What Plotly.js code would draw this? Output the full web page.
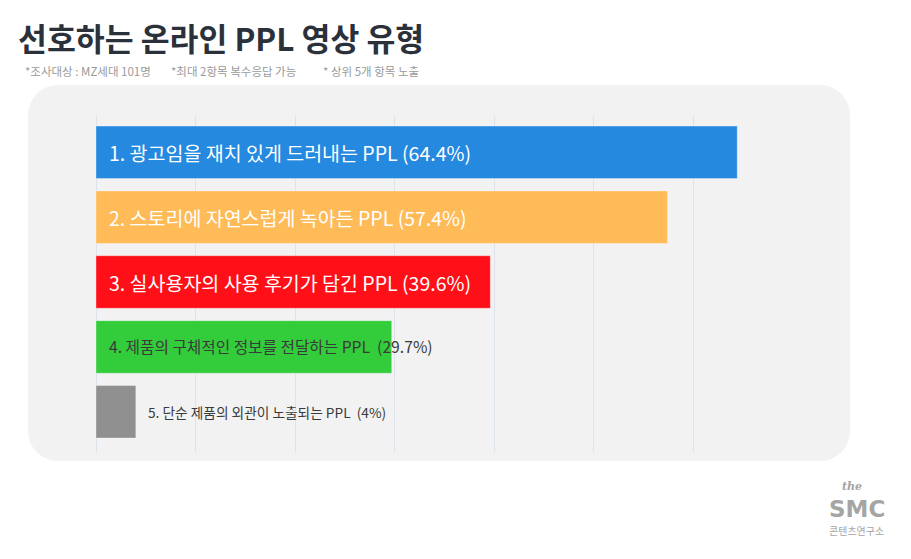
<!DOCTYPE html>
<html><head><meta charset="utf-8">
<script src="https://cdn.plot.ly/plotly-3.0.1.min.js"></script>
<style>
html,body{margin:0;padding:0;background:#fff;}
#wrap{position:relative;width:911px;height:559px;}
#card{position:absolute;left:28px;top:85px;width:822px;height:376px;background:#f2f2f2;border-radius:30px;}
#chart{position:absolute;left:0;top:0;width:911px;height:559px;}
</style></head>
<body><div id="wrap"><div id="card"></div><div id="chart"></div></div>
<script>
const categories = ["항목1","항목2","항목3","항목4","항목5"];
const labels = [
  "1. 광고임을 재치 있게 드러내는 PPL (64.4%)",
  "2. 스토리에 자연스럽게 녹아든 PPL (57.4%)",
  "3. 실사용자의 사용 후기가 담긴 PPL (39.6%)",
  "4. 제품의 구체적인 정보를 전달하는 PPL  (29.7%)",
  "5. 단순 제품의 외관이 노출되는 PPL  (4%)"
];
const values = [64.4, 57.4, 39.6, 29.7, 4];
const colors = ["#2589e0","#ffbb57","#ff1018","#33cc3a","#909090"];
const tickVals = [0,10,20,30,40,50,60,70];

const W=911,H=559,L=96,R=118,T=116,B=107;
const pw=W-L-R, ph=H-T-B;
const px=x=>(x-L)/pw, py=y=>(H-B-y)/ph;
const KR='"Noto Sans CJK KR","Noto Sans",sans-serif';

const annotations=[];
values.forEach((v,i)=>{
  const big = i<3;
  const small = i===4;
  annotations.push({
    x: small ? v : 0, y: categories[i], xref:'x', yref:'y',
    text: labels[i], showarrow:false, xanchor:'left', yanchor:'middle',
    xshift: small ? 10 : 11,
    font:{family:KR, size: big?19.5:(small?13.7:15.7), color: big?'#ffffff':'#3a3a3a'}
  });
});
annotations.push({xref:'paper',yref:'paper',x:px(16),y:py(38),xanchor:'left',yanchor:'middle',showarrow:false,
  text:'<b>선호하는 온라인 PPL 영상 유형</b>',font:{family:KR,size:31.4,color:'#2b313a'}});
[["*조사대상 : MZ세대 101명",23],["*최대 2항목 복수응답 가능",169],["* 상위 5개 항목 노출",321]].forEach(s=>{
  annotations.push({xref:'paper',yref:'paper',x:px(s[1]),y:py(71),xanchor:'left',yanchor:'middle',showarrow:false,
    text:s[0],font:{family:KR,size:11.5,color:'#9a9a9a'}});
});
annotations.push({xref:'paper',yref:'paper',x:px(852),y:py(486),xanchor:'center',yanchor:'middle',showarrow:false,
  text:'<b><i>the</i></b>',font:{family:'"DejaVu Serif",serif',size:11,color:'#a5a5a5'}});
annotations.push({xref:'paper',yref:'paper',x:px(856.5),y:py(509),xanchor:'center',yanchor:'middle',showarrow:false,
  text:'<b>SMC</b>',font:{family:'"DejaVu Sans",sans-serif',size:23,color:'#a5a5a5'}});
annotations.push({xref:'paper',yref:'paper',x:px(856.5),y:py(530),xanchor:'center',yanchor:'middle',showarrow:false,
  text:'콘텐츠연구소',font:{family:KR,size:10,color:'#a5a5a5'}});

const trace={
  type:'bar', orientation:'h', x:values, y:categories,
  width:0.81,
  marker:{color:colors, line:{color:'rgba(255,255,255,0.35)',width:1}},
  hoverinfo:'none'
};
const layout={
  width:W,height:H,margin:{l:L,r:R,t:T,b:B},
  paper_bgcolor:'rgba(0,0,0,0)',plot_bgcolor:'rgba(0,0,0,0)',
  showlegend:false,
  xaxis:{range:[0,70],tickvals:tickVals,showticklabels:false,showgrid:true,gridcolor:'#dde3ea',gridwidth:1,zeroline:true,zerolinecolor:'#dde3ea',zerolinewidth:1,showline:false,fixedrange:true},
  yaxis:{type:'category',categoryorder:'array',categoryarray:categories,range:[4.62,-0.56],showticklabels:false,showgrid:false,zeroline:false,showline:false,fixedrange:true},
  annotations:annotations
};
Plotly.newPlot('chart',[trace],layout,{displayModeBar:false,staticPlot:true});
</script></body></html>
